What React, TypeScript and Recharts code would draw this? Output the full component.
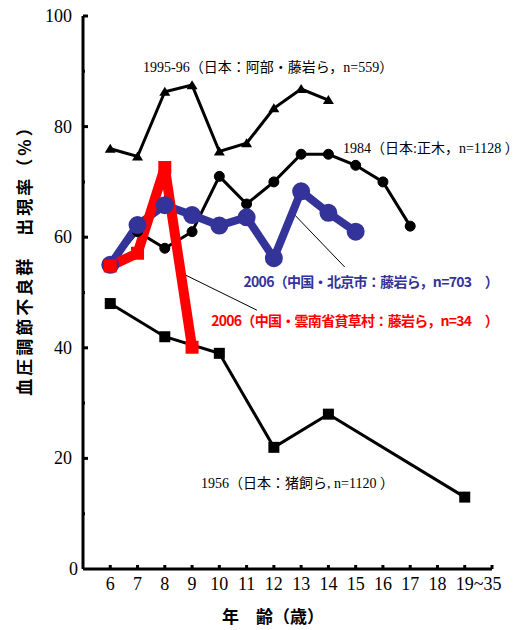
import { LineChart, Line, XAxis, YAxis, ReferenceLine } from "recharts";

// x = age (19 stands for the "19~35" group)
const ages1995 = [6, 7, 8, 9, 10, 11, 12, 13, 14];
const rate1995 = [76, 74.6, 86.3, 87.5, 75.5, 77, 83.3, 86.8, 84.8];

const ages1984 = [6, 7, 8, 9, 10, 11, 12, 13, 14, 15, 16, 17];
const rate1984 = [55, 61, 58, 61, 71, 66, 70, 75, 75, 73, 70, 62];

const agesBeijing = [6, 7, 8, 9, 10, 11, 12, 13, 14, 15];
const rateBeijing = [55, 62.2, 65.8, 64, 62.1, 63.6, 56.2, 68.3, 64.4, 61];

const agesYunnan = [6, 7, 8, 9];
const rateYunnan = [54.8, 57.1, 72.6, 40.1];

const ages1956 = [6, 8, 10, 12, 14, 19];
const rate1956 = [48, 42, 39, 22, 28, 13];

const xTicks = [6, 7, 8, 9, 10, 11, 12, 13, 14, 15, 16, 17, 18, 19, 20];
const xTickLabels: Record<number, string> = {
  6: "6", 7: "7", 8: "8", 9: "9", 10: "10", 11: "11", 12: "12", 13: "13",
  14: "14", 15: "15", 16: "16", 17: "17", 18: "18", 19: "19~35", 20: "",
};
const yTicks = [0, 10, 20, 30, 40, 50, 60, 70, 80, 90, 100];

const toPoints = (xs: number[], ys: number[]) => xs.map((x, i) => ({ x, y: ys[i] }));

const SERIF = '"Liberation Serif", "Times New Roman", "Noto Sans CJK JP", serif';
const GOTHIC = '"Noto Sans CJK JP", "Noto Sans", sans-serif';
const BLUE = "#333399";
const RED = "#ff0000";

const YTick = (props: any) => {
  const { x, y, payload } = props;
  const v = payload.value;
  const major = v % 20 === 0;
  const ax = x + 11;
  return (
    <g>
      {v !== 0 && (
        <line x1={ax} x2={ax + (major ? 5 : 2)} y1={y} y2={y} stroke="#000" strokeWidth={3} />
      )}
      {major && (
        <text x={v === 0 ? x + 6 : x} y={y} dy={6} textAnchor="end" fontFamily={SERIF} fontSize={18} fill="#000">
          {v}
        </text>
      )}
    </g>
  );
};

const XTick = (props: any) => {
  const { x, y, payload } = props;
  const v = payload.value;
  const label = xTickLabels[v] ?? "";
  return (
    <g>
      <line x1={x} x2={x} y1={y} y2={y - 4} stroke="#000" strokeWidth={3} />
      {label && (
        <text
          x={v === 19 ? x - 9 : x}
          y={y}
          dy={21}
          textAnchor={v === 19 ? "start" : "middle"}
          fontFamily={SERIF}
          fontSize={18}
          fill="#000"
        >
          {label}
        </text>
      )}
    </g>
  );
};

const Triangle = (p: any) => (
  <path key={`t-${p.index}`} d={`M${p.cx},${p.cy - 5} L${p.cx + 5.5},${p.cy + 4} L${p.cx - 5.5},${p.cy + 4} Z`} fill="#000" />
);

const BlackSquare = (p: any) => (
  <rect key={`s-${p.index}`} x={p.cx - 5.5} y={p.cy - 5.5} width={11} height={11} fill="#000" />
);

const RedSquare = (p: any) => (
  <rect key={`r-${p.index}`} x={p.cx - 6.5} y={p.cy - 6.5} width={13} height={13} fill={RED} />
);

export default function App() {
  return (
    <div style={{ position: "relative", width: 530, height: 630, background: "#fff" }}>
      <style>{"body{margin:0;background:#fff}"}</style>
      <LineChart width={530} height={630} margin={{ top: 16, right: 38, bottom: 21, left: 23 }}>
        <XAxis
          type="number"
          dataKey="x"
          domain={[5, 20]}
          ticks={xTicks}
          tick={XTick}
          tickLine={false}
          tickSize={0}
          tickMargin={0}
          height={40}
          axisLine={{ stroke: "#000", strokeWidth: 3 }}
          allowDataOverflow
        />
        <YAxis
          type="number"
          dataKey="y"
          domain={[0, 100]}
          ticks={yTicks}
          tick={YTick}
          tickLine={false}
          tickSize={0}
          tickMargin={11}
          width={60}
          axisLine={{ stroke: "#000", strokeWidth: 3 }}
          interval={0}
        />
        <ReferenceLine segment={[{ x: 12.77, y: 64 }, { x: 14.6, y: 54.6 }]} stroke="#000" strokeWidth={1} />
        <ReferenceLine segment={[{ x: 8.74, y: 53.2 }, { x: 11.38, y: 46.8 }]} stroke="#000" strokeWidth={1} />
        <Line
          data={toPoints(ages1984, rate1984)}
          dataKey="y"
          stroke="#000"
          strokeWidth={3}
          dot={{ r: 5, fill: "#000", stroke: "#000", strokeWidth: 1 }}
          isAnimationActive={false}
        />
        <Line
          data={toPoints(agesBeijing, rateBeijing)}
          dataKey="y"
          stroke={BLUE}
          strokeWidth={8}
          dot={{ r: 8, fill: BLUE, stroke: BLUE, strokeWidth: 2 }}
          isAnimationActive={false}
        />
        <Line
          data={toPoints(ages1995, rate1995)}
          dataKey="y"
          stroke="#000"
          strokeWidth={3}
          dot={Triangle}
          isAnimationActive={false}
        />
        <Line
          data={toPoints(ages1956, rate1956)}
          dataKey="y"
          stroke="#000"
          strokeWidth={3}
          dot={BlackSquare}
          isAnimationActive={false}
        />
        <Line
          data={toPoints(agesYunnan, rateYunnan)}
          dataKey="y"
          stroke={RED}
          strokeWidth={10}
          strokeLinejoin="miter"
          dot={RedSquare}
          isAnimationActive={false}
        />
      </LineChart>
      <svg width={530} height={630} style={{ position: "absolute", left: 0, top: 0, pointerEvents: "none" }}>
        <text x={143} y={72} fontFamily={SERIF} fontSize={14} fill="#000">
          1995-96（日本：阿部・藤岩ら，n=559）
        </text>
        <text x={343} y={153} fontFamily={SERIF} fontSize={14} fill="#000">
          1984（日本:正木，n=1128 ）
        </text>
        <text x={201} y={488} fontFamily={SERIF} fontSize={14} fill="#000">
          1956（日本：猪飼ら, n=1120 ）
        </text>
        <text x={498} y={287} textAnchor="end" fontFamily={GOTHIC} fontWeight={700} fontSize={14} letterSpacing={-0.7} fill={BLUE}>
          2006（中国・北京市：藤岩ら，n=703　）
        </text>
        <text x={498} y={326} textAnchor="end" fontFamily={GOTHIC} fontWeight={700} fontSize={14} letterSpacing={-0.7} fill={RED}>
          2006（中国・雲南省貧草村：藤岩ら，n=34　）
        </text>
        <text
          transform="translate(25,256) rotate(-90)"
          textAnchor="middle"
          dy={6}
          fontFamily={GOTHIC}
          fontWeight={700}
          fontSize={17}
          letterSpacing={3}
          fill="#000"
        >
          血圧調節不良群　出現率（%）
        </text>
        <text x={273} y={623} textAnchor="middle" fontFamily={GOTHIC} fontWeight={700} fontSize={17} fill="#000">
          年　齢（歳）
        </text>
      </svg>
    </div>
  );
}
